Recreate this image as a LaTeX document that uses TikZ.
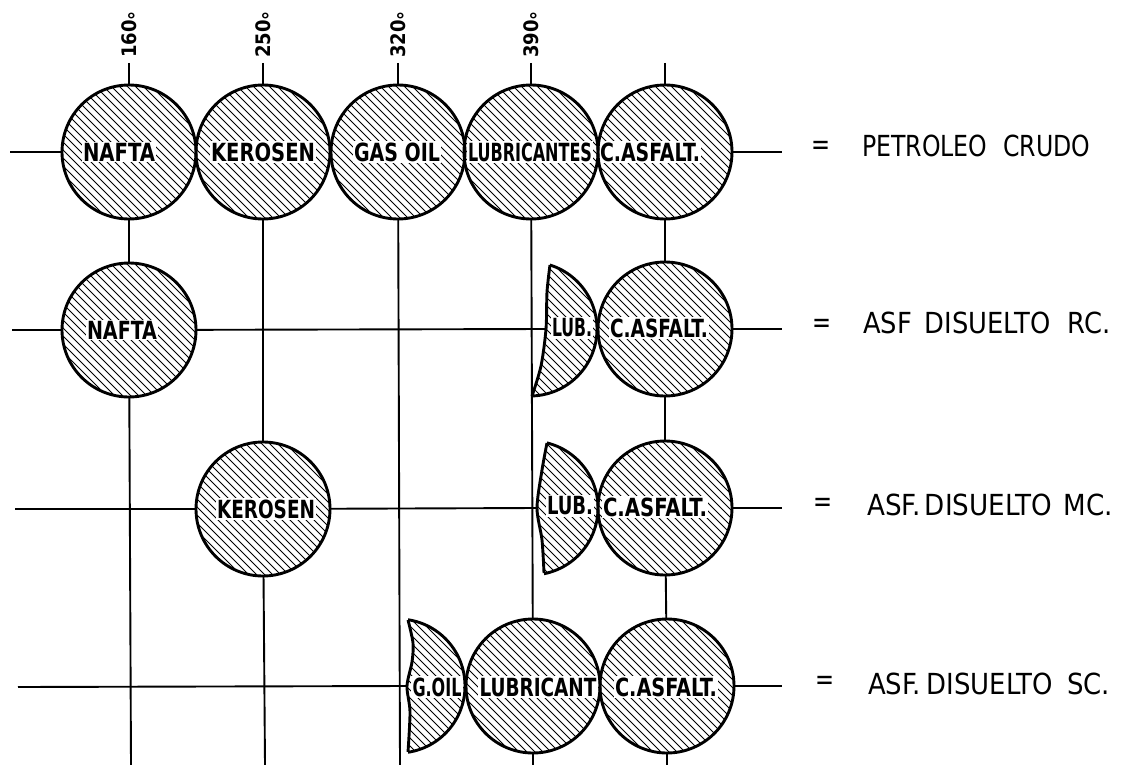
\documentclass[tikz,border=0pt]{standalone}
\usepackage{fontspec}
\setmainfont{DejaVu Sans Condensed}[BoldFont={DejaVu Sans Condensed Bold}]
\usepackage{graphicx}
\newlength\fitw
% set #2 squeezed horizontally to width #1
\newcommand\fitto[2]{\settowidth\fitw{#2}\scalebox{\fpeval{(#1)/\fitw}}[1]{#2}}
% diagonal hatching around a centre, to be used inside a clipped scope
\newcommand\hatchat[2]{\foreach \k in {-104,-96,...,104}{\draw[hatchline] (#1+\k-80,#2-80) -- (#1+\k+80,#2+80);}}
\begin{document}
\begin{tikzpicture}[x=1pt,y=-1pt,
  wire/.style={line width=1.9pt},
  ring/.style={line width=2.9pt},
  hatchline/.style={line width=1.0pt},
  fraction/.style={circle, minimum size=134pt, inner sep=0pt, outer sep=0pt,
    path picture={\foreach \k in {-104,-96,...,104}{
      \draw[hatchline] ([shift={(\k-80,-80)}]path picture bounding box.center)
        -- ([shift={(\k+80,80)}]path picture bounding box.center);}}},
  lbl/.style={font=\fontsize{25}{25}\selectfont\bfseries, fill=white, inner sep=1.3pt},
  deg/.style={font=\fontsize{20}{20}\selectfont\bfseries, rotate=90, anchor=west, inner sep=0pt},
  prod/.style={font=\fontsize{29}{29}\selectfont, anchor=west, inner sep=0pt},
  eq/.style={font=\fontsize{29}{29}\selectfont, inner sep=0pt}]
\useasboundingbox (0,0) rectangle (1124,765);

% ---- fractions (hatched discs) ----
\node[fraction] (r1c1) at (129,152) {};
\node[fraction] (r1c2) at (263,152) {};
\node[fraction] (r1c3) at (398,152) {};
\node[fraction] (r1c4) at (531,152) {};
\node[fraction] (r1c5) at (665,152) {};
\node[fraction] (r2c1) at (129,330) {};
\node[fraction] (r2c5) at (665,329) {};
\node[fraction] (r3c2) at (263,509) {};
\node[fraction] (r3c5) at (665,508) {};
\node[fraction] (r4c4) at (533,686) {};
\node[fraction] (r4c5) at (667,686) {};

% ---- partial fractions (lenses) ----
\begin{scope}
  \clip (550,240) -- plot[smooth] coordinates {(550,265) (547,292) (546,329) (541,366) (532,396)} -- (532,420) -- (620,420) -- (620,240) -- cycle;
  \clip (530,329) circle[radius=67];
  \hatchat{530}{329}
\end{scope}
\begin{scope}
  \clip (547,420) -- plot[smooth] coordinates {(547,443) (542,470) (537,508) (542,540) (544,573)} -- (544,600) -- (620,600) -- (620,420) -- cycle;
  \clip (531,508) circle[radius=67];
  \hatchat{531}{508}
\end{scope}
\begin{scope}
  \clip (408,600) -- plot[smooth] coordinates {(408,620) (413,643) (412,662) (407,686) (410,712) (408,752)} -- (408,770) -- (470,770) -- (470,600) -- cycle;
  \clip (398,686) circle[radius=67];
  \hatchat{398}{686}
\end{scope}

% ---- line ends ----
\coordinate (t1) at (129,63);
\coordinate (t2) at (263,63);
\coordinate (t3) at (398,63);
\coordinate (t4) at (531,63);
\coordinate (t5) at (665,63);
\coordinate (b1) at (131,765);
\coordinate (b2) at (265,765);
\coordinate (b3) at (400,765);
\coordinate (b4) at (533,765);
\coordinate (b5) at (667,765);
\coordinate (w1) at (10,152);
\coordinate (w2) at (12,330);
\coordinate (w3) at (15,509);
\coordinate (w4) at (18,687);
\coordinate (ew1) at (782,152);
\coordinate (ew2) at (782,329);
\coordinate (ew3) at (782,508);
\coordinate (ew4) at (782,686);
\coordinate (lubA) at (546,329);
\coordinate (lubB) at (537,508);
\coordinate (goil) at (407,686);

% ---- vertical lines ----
\draw[wire] (t1) -- (r1c1);
\draw[wire] (t2) -- (r1c2);
\draw[wire] (t3) -- (r1c3);
\draw[wire] (t4) -- (r1c4);
\draw[wire] (t5) -- (r1c5);
\draw[wire] (r1c1) -- (r2c1);
\draw[wire] (r2c1) -- (b1);
\draw[wire] (r1c2) -- (r3c2);
\draw[wire] (r3c2) -- (b2);
\draw[wire] (r1c3) -- (b3);
\draw[wire] (r1c4) -- (r4c4);
\draw[wire] (r4c4) -- (b4);
\draw[wire] (r1c5) -- (r2c5);
\draw[wire] (r2c5) -- (r3c5);
\draw[wire] (r3c5) -- (r4c5);
\draw[wire] (r4c5) -- (b5);

% ---- horizontal lines ----
\draw[wire] (w1) -- (r1c1);
\draw[wire] (r1c5) -- (ew1);
\draw[wire] (w2) -- (r2c1);
\draw[wire] (r2c1) -- (lubA);
\draw[wire] (r2c5) -- (ew2);
\draw[wire] (w3) -- (r3c2);
\draw[wire] (r3c2) -- (lubB);
\draw[wire] (r3c5) -- (ew3);
\draw[wire] (w4) -- (goil);
\draw[wire] (r4c5) -- (ew4);

% ---- fraction names ----
\node[lbl] (l11) at (119,152) {\fitto{72pt}{NAFTA}};
\node[lbl] (l12) at (263,152) {\fitto{104pt}{KEROSEN}};
\node[lbl] (l13) at (397,152) {\fitto{86pt}{GAS OIL}};
\node[lbl] (l14) at (530,152) {\fitto{124pt}{LUBRICANTES}};
\node[lbl] (l15) at (650,152) {\fitto{100pt}{C.ASFALT.}};
\node[lbl] (l21) at (122,330) {\fitto{70pt}{NAFTA}};
\node[lbl] (l24) at (572,328) {\fitto{40pt}{LUB.}};
\node[lbl] (l25) at (659,328) {\fitto{98pt}{C.ASFALT.}};
\node[lbl] (l32) at (266,509) {\fitto{98pt}{KEROSEN}};
\node[lbl] (l34) at (570,506) {\fitto{46pt}{LUB.}};
\node[lbl] (l35) at (655,507) {\fitto{104pt}{C.ASFALT.}};
\node[lbl] (l43) at (437,687) {\fitto{49pt}{G.OIL}};
\node[lbl] (l44) at (538,687) {\fitto{117pt}{LUBRICANT}};
\node[lbl] (l45) at (666,687) {\fitto{102pt}{C.ASFALT.}};

% ---- outlines ----
\foreach \n in {r1c1,r1c2,r1c3,r1c4,r1c5,r2c1,r2c5,r3c2,r3c5,r4c4,r4c5}
  \draw[ring] (\n.center) circle[radius=67];
\begin{scope}
  \clip (550,240) -- plot[smooth] coordinates {(550,265) (547,292) (546,329) (541,366) (532,396)} -- (532,420) -- (620,420) -- (620,240) -- cycle;
  \draw[ring] (530,329) circle[radius=67];
\end{scope}
\begin{scope}
  \clip (530,329) circle[radius=67];
  \draw[ring] plot[smooth] coordinates {(550,265) (547,292) (546,329) (541,366) (532,396)};
\end{scope}
\begin{scope}
  \clip (547,420) -- plot[smooth] coordinates {(547,443) (542,470) (537,508) (542,540) (544,573)} -- (544,600) -- (620,600) -- (620,420) -- cycle;
  \draw[ring] (531,508) circle[radius=67];
\end{scope}
\begin{scope}
  \clip (531,508) circle[radius=67];
  \draw[ring] plot[smooth] coordinates {(547,443) (542,470) (537,508) (542,540) (544,573)};
\end{scope}
\begin{scope}
  \clip (408,600) -- plot[smooth] coordinates {(408,620) (413,643) (412,662) (407,686) (410,712) (408,752)} -- (408,770) -- (470,770) -- (470,600) -- cycle;
  \draw[ring] (398,686) circle[radius=67];
\end{scope}
\begin{scope}
  \clip (398,686) circle[radius=67];
  \draw[ring] plot[smooth] coordinates {(408,620) (413,643) (412,662) (407,686) (410,712) (408,752)};
\end{scope}

% ---- cut temperatures ----
\node[deg] (d1) at (129,58) {160\raisebox{-.35em}[0pt][0pt]{°}};
\node[deg] (d2) at (263,58) {250\raisebox{-.35em}[0pt][0pt]{°}};
\node[deg] (d3) at (398,58) {320\raisebox{-.35em}[0pt][0pt]{°}};
\node[deg] (d4) at (531,58) {390\raisebox{-.35em}[0pt][0pt]{°}};

% ---- products ----
\node[eq] (q1) at (821,148) {\fitto{19pt}{=}};
\node[eq] (q2) at (822,326) {\fitto{19pt}{=}};
\node[eq] (q3) at (823,505) {\fitto{19pt}{=}};
\node[eq] (q4) at (825,683) {\fitto{19pt}{=}};
\node[prod] (p1) at (862,146) {\fitto{228pt}{PETROLEO\hspace{.6em}CRUDO}};
\node[prod] (p2) at (863,323) {\fitto{247pt}{ASF\hspace{.45em}DISUELTO\hspace{.6em}RC.}};
\node[prod] (p3) at (867,505) {\fitto{246pt}{ASF.\hspace{.15em}DISUELTO\hspace{.4em}MC.}};
\node[prod] (p4) at (868,684) {\fitto{242pt}{ASF.\hspace{.2em}DISUELTO\hspace{.5em}SC.}};
\end{tikzpicture}
\end{document}
